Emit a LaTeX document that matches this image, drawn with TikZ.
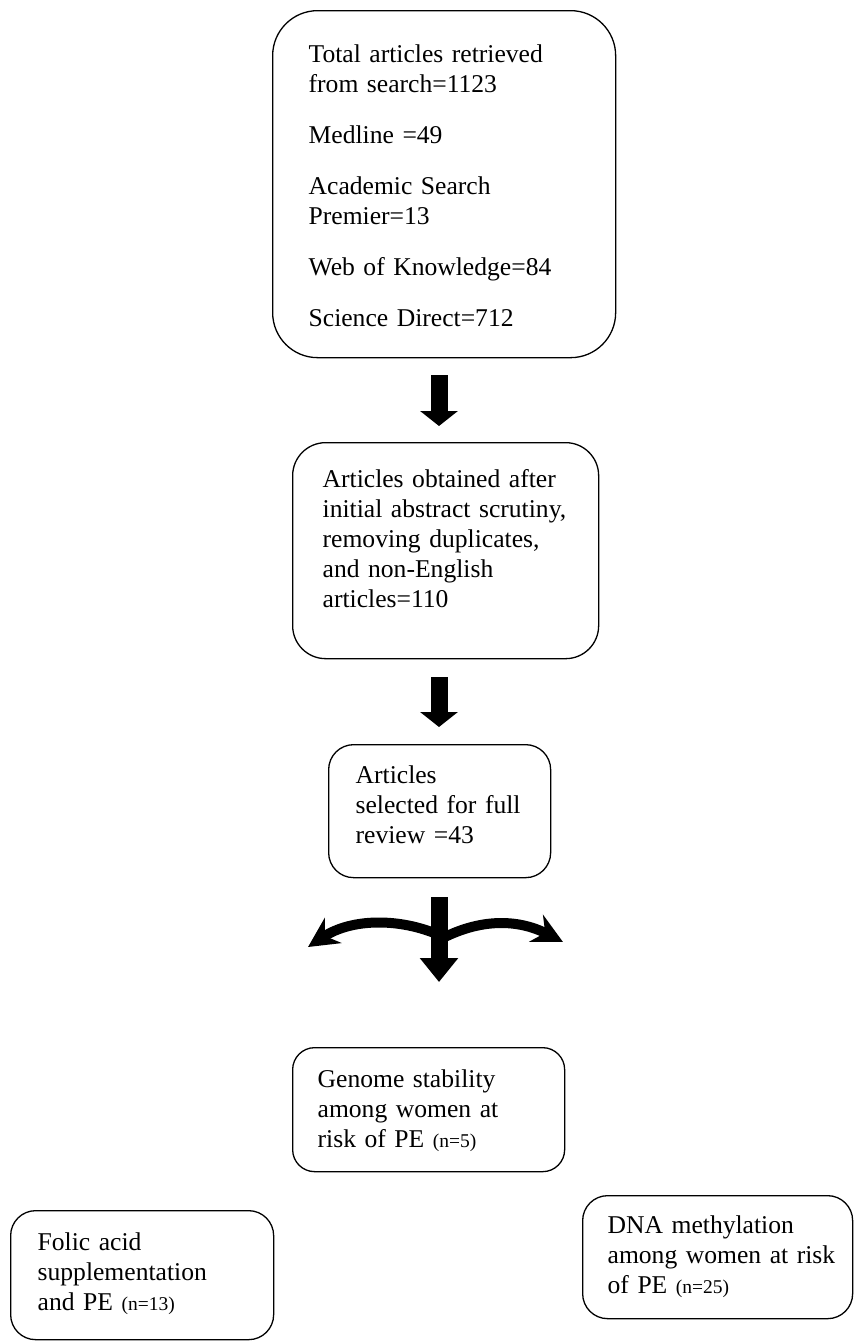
\documentclass[tikz,border=0pt]{standalone}
\usepackage{fontspec}
\setmainfont{Liberation Serif}
\usetikzlibrary{arrows.meta}
\newcommand{\nsm}[1]{{\fontsize{19.5}{30}\selectfont #1}}
\begin{document}
\begin{tikzpicture}[x=1pt,y=-1pt,
  box/.style={draw, line width=1.3pt, anchor=north west, align=left, inner ysep=0pt,
    font=\fontsize{25.6}{30}\selectfont},
  bigarrow/.style={line width=17pt, -{Triangle[length=15pt,width=37pt]}},
  bigarrowb/.style={line width=17pt, -{Triangle[length=24pt,width=37pt]}},
  curvearrow/.style={line width=10pt, -{Stealth[length=30pt,width=30pt,inset=10pt]}}]
\fill[white] (0,0) rectangle (855,1341);
\useasboundingbox (0,0) rectangle (855,1341);

\node[box, rounded corners=45pt, inner xsep=36pt, text width=271pt, text height=52pt, text depth=295pt] (b1) at (272,10)
 {Total articles retrieved\\ from search=1123\\[21pt] Medline =49\\[21pt] Academic Search\\ Premier=13\\[21pt] Web~of~Knowledge=84\\[21pt] Science Direct=712};

\node[box, rounded corners=33pt, inner xsep=30pt, text width=246pt, text height=45pt, text depth=171pt] (b2) at (292,442)
 {Articles~obtained~after\\ initial~abstract~scrutiny,\\ removing~duplicates,\\ and non-English\\ articles=110};

\node[box, rounded corners=25pt, inner xsep=27pt, text width=168pt, text height=39pt, text depth=94pt] (b3) at (328,744)
 {Articles\\ selected~for~full\\ review =43};

\node[box, rounded corners=22pt, inner xsep=25pt, text width=222pt, text height=40pt, text depth=84pt] (b4) at (292,1047)
 {Genome stability\\ among women at\\ risk of PE \nsm{(n=5)}};

\node[box, rounded corners=25pt, inner xsep=27pt, text width=209pt, text height=40pt, text depth=89pt] (b5) at (10,1210)
 {Folic acid\\ supplementation\\ and PE \nsm{(n=13)}};

\node[box, rounded corners=25pt, inner xsep=25pt, text width=220pt, text height=38pt, text depth=85pt] (b6) at (582,1195)
 {DNA methylation\\ among~women~at~risk\\ of PE \nsm{(n=25)}};

\coordinate (a1s) at (439,375);
\coordinate (a1e) at (439,426);
\coordinate (a2s) at (439,677);
\coordinate (a2e) at (439,727);
\coordinate (a3s) at (439,897);
\coordinate (a3e) at (439,982);
\coordinate (lst) at (439,935);
\coordinate (lend) at (308,947);
\coordinate (rst) at (439,940);
\coordinate (rend) at (563,942);

\draw[bigarrow] (a1s) -- (a1e);
\draw[bigarrow] (a2s) -- (a2e);
\draw[curvearrow] (lst) .. controls (400,918) and (352,918) .. (lend);
\draw[curvearrow] (rst) .. controls (480,918) and (518,919) .. (rend);
\draw[bigarrowb] (a3s) -- (a3e);
\end{tikzpicture}
\end{document}
